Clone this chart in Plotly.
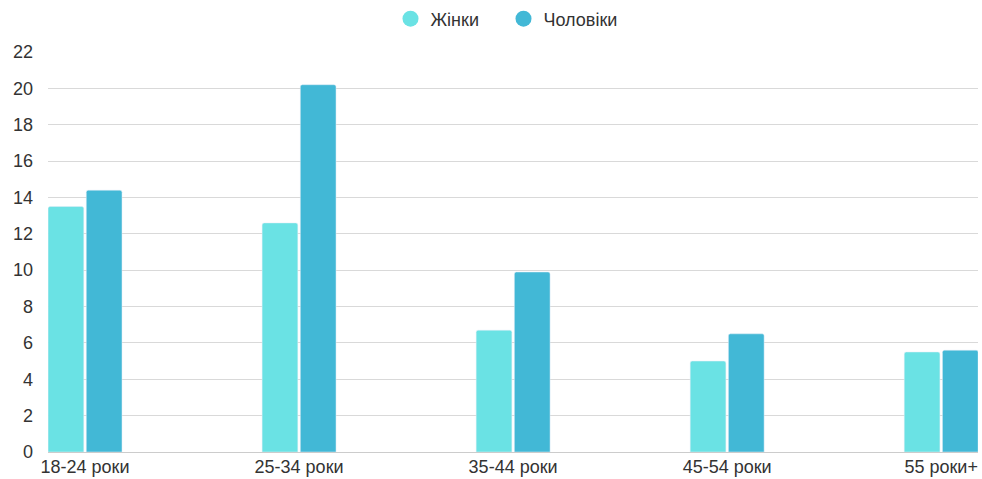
import plotly.graph_objects as go

# Age groups and shares for each gender
categories = ["18-24 роки", "25-34 роки", "35-44 роки", "45-54 роки", "55 роки+"]
women = [13.5, 12.6, 6.7, 5.0, 5.5]
men = [14.4, 20.2, 9.9, 6.5, 5.6]
y_ticks = [0, 2, 4, 6, 8, 10, 12, 14, 16, 18, 20, 22]

women_color = "#6ae2e4"
men_color = "#42b8d6"
font_family = "Liberation Sans, Arial, sans-serif"
text_color = "#333333"

fig = go.Figure()

x_idx = list(range(len(categories)))

fig.add_trace(go.Bar(x=x_idx, y=women, name="Жінки", marker=dict(color=women_color, cornerradius=2),
                     showlegend=False, hoverinfo="y"))
fig.add_trace(go.Bar(x=x_idx, y=men, name="Чоловіки", marker=dict(color=men_color, cornerradius=2),
                     showlegend=False, hoverinfo="y"))

# Legend entries drawn with round markers, one legend box per entry
for name, color, leg in [("Жінки", women_color, "legend"), ("Чоловіки", men_color, "legend2")]:
    fig.add_trace(go.Scatter(x=[None], y=[None], mode="markers", name=name, legend=leg,
                             marker=dict(color=color, size=18, symbol="circle")))

legend_common = dict(orientation="h", xref="container", xanchor="left",
                     yref="container", y=1 - 19 / 479, yanchor="middle",
                     font=dict(size=18, color=text_color), itemwidth=30)

fig.update_layout(
    width=982, height=479,
    margin=dict(l=48, r=4, t=52, b=27, autoexpand=False),
    paper_bgcolor="white", plot_bgcolor="white",
    barmode="group", bargap=0.643, bargroupgap=0.065,
    font=dict(family=font_family, size=18, color=text_color),
    legend=dict(x=390.5 / 982, **legend_common),
    legend2=dict(x=503.5 / 982, **legend_common),
    xaxis=dict(
        range=[-0.173, 4.172],
        tickmode="array", tickvals=x_idx, ticktext=categories,
        showgrid=False, zeroline=False, showline=False, ticks="",
        ticklabelstandoff=2,
        tickfont=dict(size=18, color=text_color),
    ),
    yaxis=dict(
        range=[0, 22], tickvals=y_ticks,
        showgrid=True, gridcolor="#d9d9d9", gridwidth=1,
        zeroline=True, zerolinecolor="#cccccc", zerolinewidth=1,
        showline=False, ticks="", ticklabelstandoff=14,
        tickfont=dict(size=18, color=text_color),
    ),
)

fig.write_html("out.html")
